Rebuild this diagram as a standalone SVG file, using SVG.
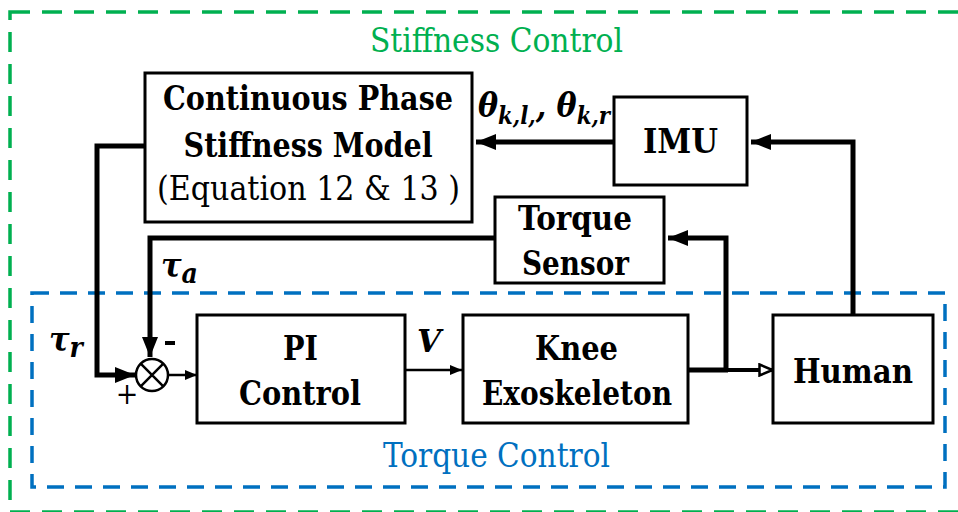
<svg xmlns="http://www.w3.org/2000/svg" width="958" height="512" viewBox="0 0 958 512">
<style>
.box{fill:#fff;stroke:#000;stroke-width:3}
.serif{font-family:"DejaVu Serif Condensed","DejaVu Serif",serif;font-stretch:condensed}
.lb{font-family:"DejaVu Serif Condensed","DejaVu Serif",serif;font-stretch:condensed;font-weight:bold;font-size:34px;fill:#000;text-anchor:middle}
.lr{font-family:"DejaVu Serif Condensed","DejaVu Serif",serif;font-stretch:condensed;font-size:34px;fill:#000;text-anchor:middle}
.math{font-family:"DejaVu Serif Condensed","DejaVu Serif",serif;font-stretch:condensed;font-weight:bold;font-style:italic;fill:#000}
.thick{fill:none;stroke:#000;stroke-width:5}
.thin{fill:none;stroke:#000;stroke-width:2.5}
</style>
<defs>
<marker id="big" viewBox="0 0 20 16" refX="20" refY="8" markerWidth="20" markerHeight="16" orient="auto" markerUnits="userSpaceOnUse">
<path d="M0,0 L20,8 L0,16 z" fill="#000"/>
</marker>
<marker id="sm" viewBox="0 0 12 10" refX="12" refY="5" markerWidth="12" markerHeight="10" orient="auto" markerUnits="userSpaceOnUse">
<path d="M0,0 L12,5 L0,10 z" fill="#000"/>
</marker>
<marker id="open" viewBox="0 0 16 14" refX="15" refY="7" markerWidth="16" markerHeight="14" orient="auto" markerUnits="userSpaceOnUse">
<path d="M1.5,1.5 L14.5,7 L1.5,12.5 z" fill="#fff" stroke="#000" stroke-width="2.5"/>
</marker>
</defs>

<g id="stiffness-control">
<rect x="10" y="12" width="960" height="500" fill="none" stroke="#00b050" stroke-width="3.5" stroke-dasharray="20 12"/>
<text class="serif" x="496.5" y="52" font-size="33" fill="#00b050" text-anchor="middle" textLength="253" lengthAdjust="spacingAndGlyphs">Stiffness Control</text>
</g>

<g id="torque-control">
<rect x="32" y="293" width="913" height="194" fill="none" stroke="#0070c0" stroke-width="3.5" stroke-dasharray="17 11"/>
<text class="serif" x="496.5" y="467" font-size="33" fill="#0070c0" text-anchor="middle" textLength="227" lengthAdjust="spacingAndGlyphs">Torque Control</text>
</g>

<g id="connectors">
<path class="thick" d="M614,142 L476,142" marker-end="url(#big)"/>
<path class="thick" d="M853,315 L853,142 L751,142" marker-end="url(#big)"/>
<path class="thick" d="M726,370 L726,238 L668,238" marker-end="url(#big)"/>
<path class="thick" d="M495,238 L150,238 L150,357" marker-end="url(#big)"/>
<path class="thick" d="M145,146 L97,146 L97,375 L135,375" marker-end="url(#big)"/>
<path class="thin" d="M168,375 L197,375" marker-end="url(#sm)"/>
<path class="thin" d="M405,370 L462,370" marker-end="url(#sm)"/>
<path class="thick" d="M688,370 L728,370"/>
<path fill="none" stroke="#000" stroke-width="4" d="M726,370 L773,370" marker-end="url(#open)"/>
<text class="math" x="417" y="352" font-size="32" textLength="24" lengthAdjust="spacingAndGlyphs">V</text>
<text class="math" x="478" y="117" font-size="34" textLength="132" lengthAdjust="spacingAndGlyphs">θ<tspan font-size="24" dy="7">k,l,</tspan><tspan font-size="34" dy="-7">, θ</tspan><tspan font-size="24" dy="7">k,r</tspan></text>
<text class="math" x="161" y="277" font-size="34">τ<tspan font-size="28" dy="6">a</tspan></text>
<text class="math" x="49" y="351" font-size="34">τ<tspan font-size="28" dy="6">r</tspan></text>
<text class="serif" x="127" y="404" font-size="30" text-anchor="middle">+</text>
<rect x="165" y="341" width="10" height="4" fill="#000"/>
</g>

<g id="sum-junction">
<circle cx="152" cy="375" r="16" fill="#fff" stroke="#000" stroke-width="2.5"/>
<path d="M140.7,363.7 L163.3,386.3 M163.3,363.7 L140.7,386.3" stroke="#000" stroke-width="2.5"/>
</g>

<g id="continuous-phase">
<rect class="box" x="145" y="73" width="327" height="149"/>
<text class="lb" x="308" y="110" textLength="290" lengthAdjust="spacingAndGlyphs">Continuous Phase</text>
<text class="lb" x="308" y="157" textLength="249" lengthAdjust="spacingAndGlyphs">Stiffness Model</text>
<text class="lr" x="308.5" y="200" textLength="303" lengthAdjust="spacingAndGlyphs">(Equation 12 &amp; 13 )</text>
</g>

<g id="imu">
<rect class="box" x="614" y="97" width="133" height="88"/>
<text class="lb" x="680.5" y="153" textLength="75" lengthAdjust="spacingAndGlyphs">IMU</text>
</g>

<g id="torque-sensor">
<rect class="box" x="495" y="197" width="169" height="86"/>
<text class="lb" x="575" y="230" textLength="114" lengthAdjust="spacingAndGlyphs">Torque</text>
<text class="lb" x="575.5" y="275" textLength="107" lengthAdjust="spacingAndGlyphs">Sensor</text>
</g>

<g id="pi-control">
<rect class="box" x="197" y="315" width="208" height="108"/>
<text class="lb" x="300.5" y="360" textLength="35" lengthAdjust="spacingAndGlyphs">PI</text>
<text class="lb" x="300" y="405" textLength="122" lengthAdjust="spacingAndGlyphs">Control</text>
</g>

<g id="knee-exoskeleton">
<rect class="box" x="463" y="315" width="225" height="108"/>
<text class="lb" x="576.5" y="360" textLength="83" lengthAdjust="spacingAndGlyphs">Knee</text>
<text class="lb" x="577" y="405" textLength="190" lengthAdjust="spacingAndGlyphs">Exoskeleton</text>
</g>

<g id="human">
<rect class="box" x="773" y="315" width="160" height="108"/>
<text class="lb" x="853" y="383" textLength="120" lengthAdjust="spacingAndGlyphs">Human</text>
</g>
</svg>
